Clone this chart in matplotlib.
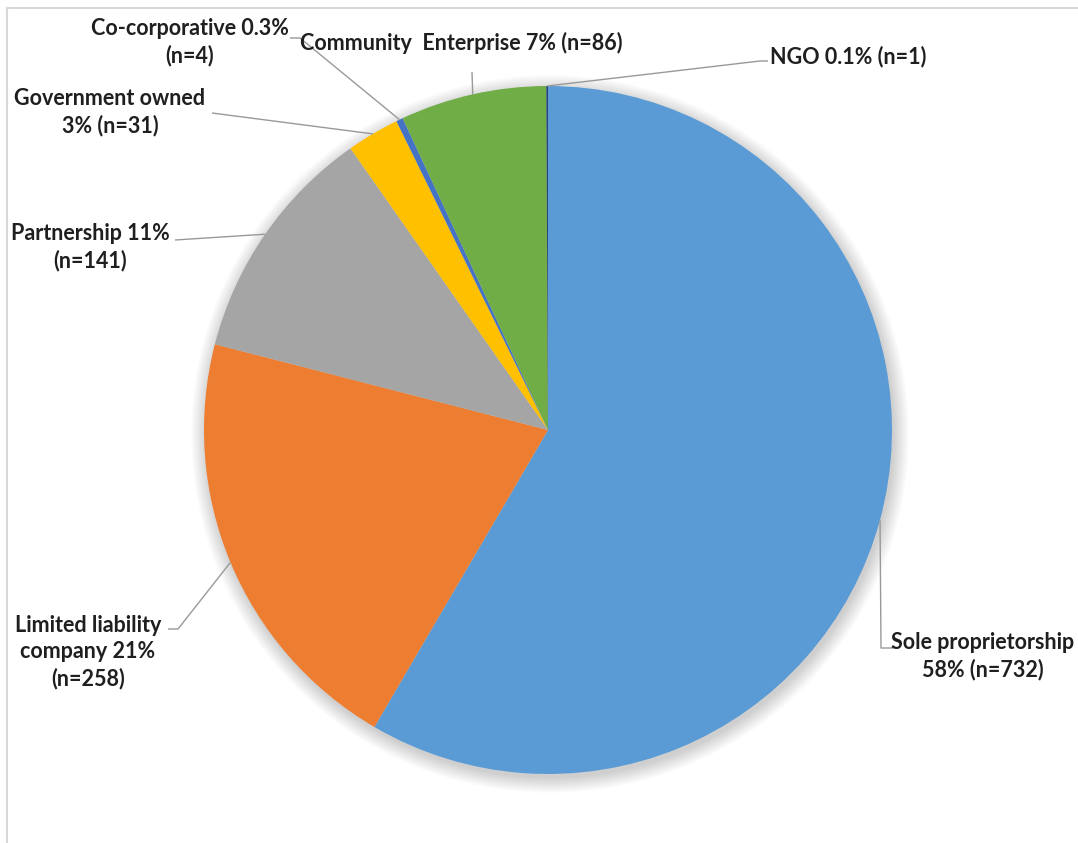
import numpy as np
import matplotlib
matplotlib.use("Agg")
import matplotlib.pyplot as plt
from matplotlib.patches import Circle

# Business ownership types (counts of respondents)
categories = ["Sole proprietorship", "Limited liability company", "Partnership",
              "Government owned", "Co-corporative", "Community  Enterprise", "NGO"]
counts = [732, 258, 141, 31, 4, 86, 1]
label_texts = [
    "Sole proprietorship\n58% (n=732)",
    "Limited liability\ncompany 21%\n(n=258)",
    "Partnership 11%\n(n=141)",
    "Government owned\n3% (n=31)",
    "Co-corporative 0.3%\n(n=4)",
    "Community  Enterprise 7% (n=86)",
    "NGO 0.1% (n=1)",
]
colors = ["#5B9BD5", "#ED7D31", "#A5A5A5", "#FFC000", "#4472C4", "#70AD47", "#264478"]

W, H = 1078, 843
fig = plt.figure(figsize=(W / 100, H / 100), dpi=100)
ax = fig.add_axes([0, 0, 1, 1])

def Y(y):
    # pixel row measured from the top -> axis coordinate
    return H - y

cx, cy, R = 548, Y(430), 344

# soft drop shadow beneath the pie
for i in range(16):
    ax.add_patch(Circle((cx + 2, cy - 4), R + i, color="#000000",
                        alpha=0.011, lw=0, zorder=1))

wedges, _ = ax.pie(counts, colors=colors, startangle=90, counterclock=False,
                   center=(cx, cy), radius=R, frame=True,
                   wedgeprops=dict(linewidth=0, zorder=2))
ax.set_xlim(0, W)
ax.set_ylim(0, H)
ax.set_aspect("equal")
ax.axis("off")

# label placement: text anchor, alignment, leader-line bend points
layout = [
    dict(xy=(983, 656), ha="center", path=[(881, 648), (893, 648)]),
    dict(xy=(88, 652), ha="center", path=[(178, 629), (168, 629)]),
    dict(xy=(90, 247), ha="center", path=[(175, 240)]),
    dict(xy=(110, 112), ha="center", path=[(212, 113)]),
    dict(xy=(190, 42), ha="center", path=[(300, 38), (290, 38)]),
    dict(xy=(461, 43), ha="center", path=[(472, 72)]),
    dict(xy=(770, 57), ha="left", path=[(760, 61), (768, 61)]),
]

line_color = "#999999"
font = dict(family=["Lato", "DejaVu Sans"], fontweight="bold", fontsize=15.5,
            color="#1F1F1F", linespacing=1.3)

for w, lab, lay in zip(wedges, label_texts, layout):
    mid = np.deg2rad((w.theta1 + w.theta2) / 2)
    start = (cx + R * np.cos(mid), cy + R * np.sin(mid))
    pts = [start] + [(px, Y(py)) for px, py in lay["path"]]
    xs, ys = zip(*pts)
    ax.plot(xs, ys, color=line_color, lw=1.0, zorder=3, solid_capstyle="butt")
    ax.text(lay["xy"][0], Y(lay["xy"][1]), lab, ha=lay["ha"], va="center",
            multialignment="center", zorder=4, **font)

# chart-area border (top and left edges)
fig.add_artist(plt.Line2D([7 / W, 1], [1 - 8 / H, 1 - 8 / H], transform=fig.transFigure,
                          color="#D9D9D9", lw=1.5))
fig.add_artist(plt.Line2D([7 / W, 7 / W], [0, 1 - 8 / H], transform=fig.transFigure,
                          color="#D9D9D9", lw=1.5))

fig.savefig("out.png", dpi=100, facecolor="white")
